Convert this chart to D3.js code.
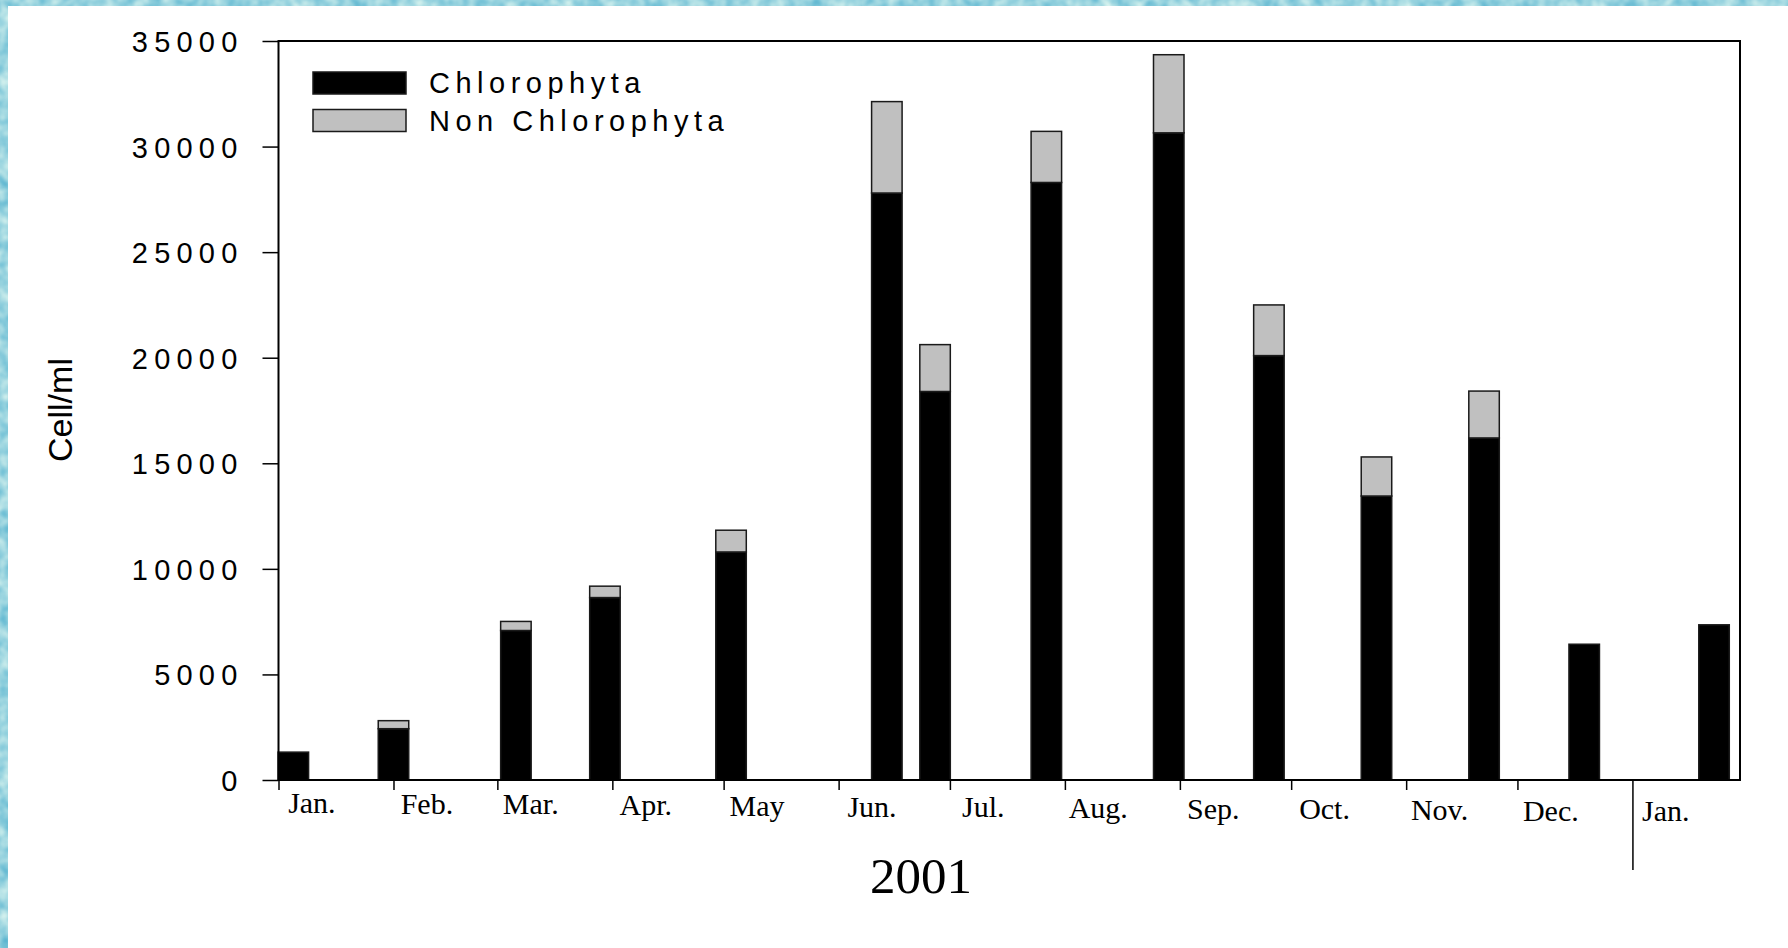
<!DOCTYPE html>
<html>
<head>
<meta charset="utf-8">
<script src="https://cdn.jsdelivr.net/npm/d3@7"></script>
<style>
  html, body { margin: 0; padding: 0; background: #fff; }
  svg { display: block; }
</style>
</head>
<body>
<div id="chart"></div>
<script>
// sampling days, Jan 2001 - Jan 2002
const sampleDates = ['2001-01-05', '2001-02-01', '2001-03-06', '2001-03-30', '2001-05-03',
  '2001-06-14', '2001-06-27', '2001-07-27', '2001-08-29', '2001-09-25',
  '2001-10-24', '2001-11-22', '2001-12-19', '2002-01-23'];
const chlorophyta = [1320, 2430, 7080, 8640, 10800, 27800, 18400, 28300, 30650, 20100, 13450, 16200, 6430, 7350];
const nonChlorophyta = [0, 380, 430, 540, 1030, 4330, 2220, 2420, 3700, 2400, 1850, 2220, 0, 0];
const seriesNames = ['Chlorophyta', 'Non Chlorophyta'];
const monthLabels = ['Jan.', 'Feb.', 'Mar.', 'Apr.', 'May', 'Jun.', 'Jul.', 'Aug.', 'Sep.', 'Oct.', 'Nov.', 'Dec.', 'Jan.'];
const yTicks = [0, 5000, 10000, 15000, 20000, 25000, 30000, 35000];
const yTitle = 'Cell/ml';
const yearLabel = '2001';

const WIDTH = 1788;
const HEIGHT = 948;
const MARGIN = { top: 41, right: 48, bottom: 168, left: 278.5 };
const BAR_WIDTH = 30.5;
const COLORS = ['#000', '#c0c0c0'];
const SANS = 'Liberation Sans, Arial, sans-serif';
const SERIF = 'Liberation Serif, Times New Roman, serif';

const parseDate = d3.utcParse('%Y-%m-%d');
const rows = sampleDates.map((d, i) => ({
  'date': parseDate(d),
  'Chlorophyta': chlorophyta[i],
  'Non Chlorophyta': nonChlorophyta[i],
}));

const svg = d3.select('#chart')
  .append('svg')
  .attr('width', WIDTH)
  .attr('height', HEIGHT);

// mottled light blue page edge (left and top strips only)
const texture = svg.append('defs').append('filter')
  .attr('id', 'water')
  .attr('color-interpolation-filters', 'sRGB')
  .attr('x', 0).attr('y', 0).attr('width', 1).attr('height', 1);
texture.append('feTurbulence')
  .attr('type', 'fractalNoise')
  .attr('baseFrequency', 0.08)
  .attr('numOctaves', 2)
  .attr('seed', 3);
texture.append('feColorMatrix')
  .attr('type', 'matrix')
  .attr('values', '0.6 0 0 0 0.30  0.3 0 0 0 0.68  0.15 0 0 0 0.80  0 0 0 0 1');

svg.append('rect')
  .attr('width', WIDTH).attr('height', HEIGHT)
  .attr('fill', '#a9d9e4')
  .attr('filter', 'url(#water)');
svg.append('rect')
  .attr('x', 8).attr('y', 6)
  .attr('width', WIDTH - 8).attr('height', HEIGHT - 6)
  .attr('fill', '#fff');

const x = d3.scaleUtc()
  .domain([new Date(Date.UTC(2001, 0, 1)), new Date(Date.UTC(2002, 0, 30))])
  .range([MARGIN.left, WIDTH - MARGIN.right]);

const y = d3.scaleLinear()
  .domain([0, 35000])
  .range([HEIGHT - MARGIN.bottom, MARGIN.top]);

// stacked bars
const stacked = d3.stack().keys(seriesNames)(rows);

svg.append('g')
  .selectAll('g')
  .data(stacked)
  .join('g')
  .attr('fill', (d, i) => COLORS[i])
  .selectAll('rect')
  .data(d => d.filter(s => s[1] > s[0]))
  .join('rect')
  .attr('x', d => x(d.data.date) - BAR_WIDTH / 2)
  .attr('y', d => y(d[1]))
  .attr('width', BAR_WIDTH)
  .attr('height', d => y(d[0]) - y(d[1]))
  .attr('stroke', '#1a1a1a')
  .attr('stroke-width', 1.5);

// x axis: month boundaries
const months = d3.utcMonth.range(new Date(Date.UTC(2001, 0, 1)), new Date(Date.UTC(2002, 0, 2)));

const xAxis = svg.append('g')
  .attr('transform', `translate(0,${y(0)})`)
  .call(d3.axisBottom(x).tickValues(months).tickSize(10).tickSizeOuter(0).tickFormat(''));
xAxis.select('.domain').remove();
xAxis.selectAll('.tick line').attr('stroke', '#000').attr('stroke-width', 1.5);
// year change marker
xAxis.selectAll('.tick line').filter((d, i) => i === months.length - 1).attr('y2', 90);

svg.append('g')
  .selectAll('text')
  .data(months)
  .join('text')
  .attr('x', d => x(d3.utcDay.offset(d, 9)))
  .attr('y', (d, i) => y(0) + 33 + i * 0.7)
  .attr('text-anchor', 'middle')
  .attr('font-family', SERIF)
  .attr('font-size', 30)
  .attr('fill', '#000')
  .text((d, i) => monthLabels[i]);

svg.append('text')
  .attr('x', 921)
  .attr('y', 893)
  .attr('text-anchor', 'middle')
  .attr('font-family', SERIF)
  .attr('font-size', 51)
  .attr('fill', '#000')
  .text(yearLabel);

// y axis
const yAxis = svg.append('g')
  .attr('transform', `translate(${MARGIN.left},0)`)
  .call(d3.axisLeft(y).tickValues(yTicks).tickSize(16).tickPadding(0).tickFormat(d => d));
yAxis.select('.domain').remove();
yAxis.selectAll('.tick line').attr('stroke', '#000').attr('stroke-width', 1.5);
yAxis.selectAll('.tick text')
  .attr('x', -35)
  .attr('dy', '0.36em')
  .attr('font-family', SANS)
  .attr('font-size', 29)
  .attr('letter-spacing', 6.2)
  .attr('fill', '#000');

svg.append('text')
  .attr('transform', `translate(72,410) rotate(-90)`)
  .attr('text-anchor', 'middle')
  .attr('font-family', SANS)
  .attr('font-size', 34)
  .attr('fill', '#000')
  .text(yTitle);

// plot frame
svg.append('rect')
  .attr('x', MARGIN.left)
  .attr('y', MARGIN.top)
  .attr('width', WIDTH - MARGIN.right - MARGIN.left)
  .attr('height', y(0) - MARGIN.top)
  .attr('fill', 'none')
  .attr('stroke', '#000')
  .attr('stroke-width', 2);

// legend
const legend = svg.append('g')
  .attr('transform', 'translate(313,72)')
  .selectAll('g')
  .data(seriesNames)
  .join('g')
  .attr('transform', (d, i) => `translate(0,${i * 37.5})`);

legend.append('rect')
  .attr('width', 93)
  .attr('height', 22)
  .attr('fill', (d, i) => COLORS[i])
  .attr('stroke', '#1a1a1a')
  .attr('stroke-width', 1.5);

legend.append('text')
  .attr('x', 116)
  .attr('y', 21)
  .attr('font-family', SANS)
  .attr('font-size', 29)
  .attr('letter-spacing', 5.5)
  .attr('fill', '#000')
  .text(d => d);
</script>
</body>
</html>
